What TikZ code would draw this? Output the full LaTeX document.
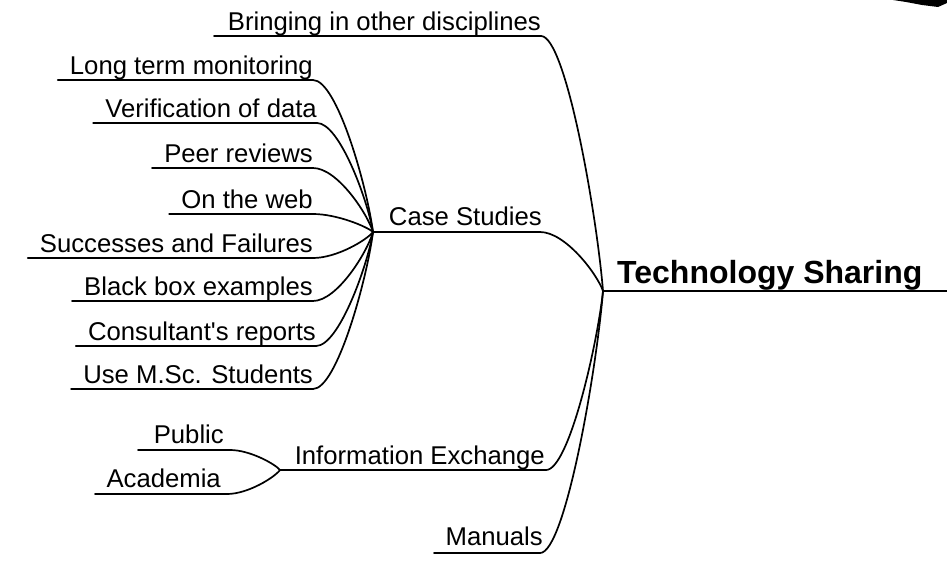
\documentclass[tikz,border=0pt]{standalone}
\usepackage{fontspec}
\setmainfont{Liberation Sans}
\usetikzlibrary{calc}
\tikzset{
  txt/.style={inner sep=0pt, font=\fontsize{25.7}{30}\selectfont},
  leaf/.style={txt, anchor=base east},
  rootlabel/.style={inner sep=0pt, anchor=base west, font=\fontsize{32}{36}\selectfont\bfseries},
  ln/.style={line width=1.7pt, line cap=round},
  branch/.style={to path={let \p1=(\tikztostart), \p2=(\tikztotarget) in
     .. controls ({\x1+0.4*(\x2-\x1)}, \y1) and ({\x2-0.1*(\x2-\x1)}, {\y2-0.3*(\y2-\y1)}) .. (\tikztotarget)}}
}
\begin{document}
\begin{tikzpicture}[x=1pt,y=-1pt]
\useasboundingbox (0,0) rectangle (947,570);
% hubs
\coordinate (root) at (603,291);
\coordinate (cs) at (373,232);
\coordinate (ie) at (280,470);
% root
\node[rootlabel] (rootl) at (617,283) {Technology Sharing};
\coordinate (rootend) at (947,291);
\draw[ln] (root) -- (rootend);
% bringing
\node[leaf] (bi) at (541,30) {Bringing in other disciplines};
\coordinate (bi-l) at (214,36);
\coordinate (bi-r) at (541,36);
\draw[ln] (bi-l) -- (bi-r);
\draw[ln] (bi-r) to[branch] (root);
% case studies
\node[leaf] (csl) at (542,225) {Case Studies};
\coordinate (cs-r) at (540,232);
\draw[ln] (cs) -- (cs-r);
\draw[ln] (cs-r) to[branch] (root);
% leaves of case studies
\foreach \n/\y/\xr/\t in {
  lt/80/313/{Long term monitoring},
  vd/123/317/{Verification of data},
  pr/168/313/{Peer reviews},
  ow/214/313/{On the web},
  sf/258/313/{Successes and Failures},
  bb/301/313/{Black box examples},
  cr/346/316/{Consultant\textquotesingle s reports},
  ms/389/313/{Use M.Sc. Students}}{
  \node[leaf] (\n) at (\xr,\y-6) {\t};
  \draw[ln] ([xshift=-12pt,yshift=-6pt]\n.base west) -- ([yshift=-6pt]\n.base east) coordinate (\n-r);
  \draw[ln] (\n-r) to[branch] (cs);
}
% information exchange
\node[leaf] (iel) at (545,464) {Information Exchange};
\coordinate (ie-r) at (546,470);
\draw[ln] (ie) -- (ie-r);
\draw[ln] (ie-r) to[branch] (root);
\node[leaf] (pu) at (224,443) {Public};
\coordinate (pu-l) at (138,450);
\coordinate (pu-r) at (230,450);
\draw[ln] (pu-l) -- (pu-r);
\draw[ln] (pu-r) to[branch] (ie);
\node[leaf] (ac) at (221,487) {Academia};
\coordinate (ac-l) at (95,494);
\coordinate (ac-r) at (227,494);
\draw[ln] (ac-l) -- (ac-r);
\draw[ln] (ac-r) to[branch] (ie);
% manuals
\node[leaf] (ma) at (543,545) {Manuals};
\coordinate (ma-l) at (434,553);
\coordinate (ma-r) at (540,553);
\draw[ln] (ma-l) -- (ma-r);
\draw[ln] (ma-r) to[branch] (root);
% clipped shape at top right
\fill (893,0) -- (947,0) -- (947,3) -- (938,7) -- (922,5) -- (906,2) -- cycle;
\end{tikzpicture}
\end{document}
